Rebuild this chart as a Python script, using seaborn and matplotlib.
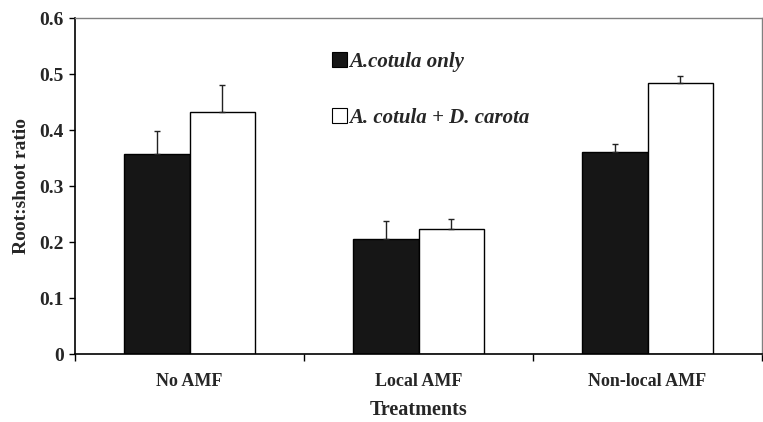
import pandas as pd
import numpy as np
import seaborn as sns
import matplotlib
matplotlib.use('Agg')
import matplotlib.pyplot as plt
from matplotlib.patches import Patch

# datos
tratamientos = ['No AMF', 'Local AMF', 'Non-local AMF']
plantas = ['A.cotula only', 'A. cotula + D. carota']
ratio_sola = [0.358, 0.206, 0.360]
ratio_mixta = [0.432, 0.224, 0.484]
err_sola = [0.041, 0.032, 0.015]
err_mixta = [0.048, 0.017, 0.013]

colores = ['#161616', 'white']

df = pd.DataFrame({
    'Tratamiento': tratamientos * 2,
    'Planta': [plantas[0]] * 3 + [plantas[1]] * 3,
    'Ratio': ratio_sola + ratio_mixta,
    'Error': err_sola + err_mixta,
})

sns.set_style('white')
plt.rcParams['font.family'] = ['Liberation Serif', 'DejaVu Serif']
plt.rcParams['font.weight'] = 'bold'

fig = plt.figure(figsize=(7.63, 4.22), dpi=100)
ax = fig.add_axes([0.0983, 0.1611, 0.9004, 0.7962])

sns.barplot(data=df, x='Tratamiento', y='Ratio', hue='Planta', hue_order=plantas,
            order=tratamientos, palette=colores, width=0.576, edgecolor='black',
            linewidth=1, errorbar=None, legend=False, ax=ax)

# barras de error solo hacia arriba
for cont, planta in zip(ax.containers, plantas):
    sub = df[df['Planta'] == planta].set_index('Tratamiento').loc[tratamientos]
    for barra, e in zip(cont, sub['Error']):
        xc = barra.get_x() + barra.get_width() / 2
        h = barra.get_height()
        ax.errorbar(xc, h, yerr=[[0], [e]], fmt='none', ecolor='#222222',
                    elinewidth=1, capsize=2.5, capthick=1)

ax.set_xlim(-0.5, 2.5)
ax.set_ylim(0, 0.6)
ax.set_yticks(np.arange(0, 0.61, 0.1))
ax.set_yticklabels(['0', '0.1', '0.2', '0.3', '0.4', '0.5', '0.6'], fontsize=14, fontweight='bold')

# ticks en los limites de cada grupo, etiquetas en el centro
ax.set_xticks([-0.5, 0.5, 1.5, 2.5])
ax.set_xticklabels([])
ax.set_xticks([0, 1, 2], minor=True)
ax.set_xticklabels(tratamientos, minor=True, fontsize=13, fontweight='bold')
ax.tick_params(axis='x', which='major', direction='out', length=5, width=1, color='black', bottom=True)
ax.tick_params(axis='x', which='minor', length=0, pad=14)
ax.tick_params(axis='y', direction='out', length=4, width=1, color='black', left=True, pad=4)

for lado in ['left', 'bottom']:
    ax.spines[lado].set_color('black')
    ax.spines[lado].set_linewidth(1.2)
for lado in ['top', 'right']:
    ax.spines[lado].set_color('#808080')
    ax.spines[lado].set_linewidth(1)

ax.set_xlabel('Treatments', fontsize=14.5, fontweight='bold')
ax.xaxis.set_label_coords(0.5, -0.136)
ax.set_ylabel('Root:shoot ratio', fontsize=14, fontweight='bold', labelpad=7)

handles = [Patch(facecolor=c, edgecolor='black', linewidth=0.8) for c in colores]
ax.legend(handles, plantas, frameon=False, loc='upper left', bbox_to_anchor=(0.374, 0.9),
          handlelength=0.7, handleheight=0.7, handletextpad=0.12, labelspacing=1.75,
          borderpad=0, borderaxespad=0,
          prop={'family': 'Liberation Serif', 'weight': 'bold', 'style': 'italic', 'size': 15})

plt.savefig('out.png', dpi=100)
